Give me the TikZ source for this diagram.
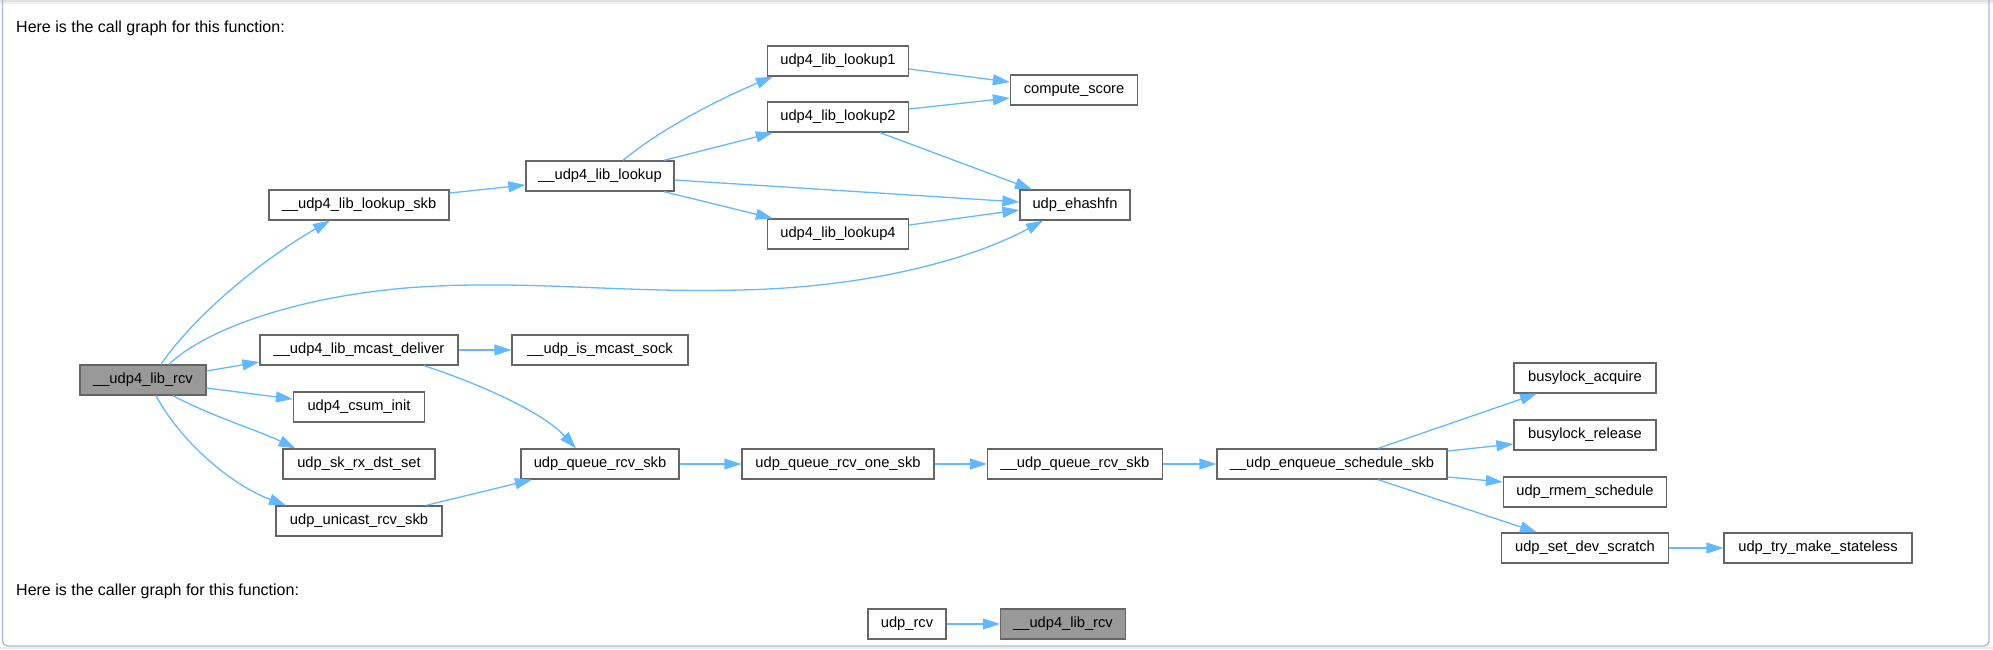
\documentclass[tikz,border=0pt]{standalone}
\usepackage{fontspec}
\setmainfont{Liberation Sans}
\usetikzlibrary{arrows.meta}
\definecolor{edgeblue}{HTML}{63B8FF}
\definecolor{nodeborder}{HTML}{666666}
\definecolor{mainfill}{HTML}{999999}
\definecolor{framecol}{HTML}{A8B8D9}
\tikzset{
  box/.style={draw=nodeborder, line width=1.3pt, fill=white, minimum height=30pt,
    inner sep=0pt, font=\fontsize{14.7}{17}\selectfont, text=black},
  mainbox/.style={box, fill=mainfill},
  call/.style={draw=edgeblue, line width=1.3pt, -{Triangle[length=17pt,width=11pt]}},
  header/.style={anchor=base west, inner sep=0pt, font=\fontsize{16}{19}\selectfont, text=black}
}
\begin{document}
\begin{tikzpicture}[x=1pt,y=-1pt]
\useasboundingbox (0,0) rectangle (1993,649);
% frame
\fill[black!12] (0,0) rectangle (1993,2);
\fill[black!6] (0,2) rectangle (1993,3.5);
\fill[black!8] (0,647) rectangle (1993,649);
\draw[framecol, line width=1.3pt, rounded corners=5pt] (2.5,0) -- (2.5,646) -- (1989,646) -- (1989,0);

\node[header] (h1) at (16,32) {Here is the call graph for this function:};
\node[header] (h2) at (16,595) {Here is the caller graph for this function:};

% nodes
\node[mainbox, minimum width=126pt] (rcv) at (143,380) {\_\_udp4\_lib\_rcv};
\node[box, minimum width=180pt] (lsk) at (359,205) {\_\_udp4\_lib\_lookup\_skb};
\node[box, minimum width=148pt] (lk) at (600,176) {\_\_udp4\_lib\_lookup};
\node[box, minimum width=141pt] (l1) at (838,61) {udp4\_lib\_lookup1};
\node[box, minimum width=141pt] (l2) at (838,117) {udp4\_lib\_lookup2};
\node[box, minimum width=141pt] (l4) at (838,234) {udp4\_lib\_lookup4};
\node[box, minimum width=127pt] (cs) at (1074,90) {compute\_score};
\node[box, minimum width=110pt] (eh) at (1075,205) {udp\_ehashfn};
\node[box, minimum width=198pt] (mcd) at (359,350) {\_\_udp4\_lib\_mcast\_deliver};
\node[box, minimum width=176pt] (im) at (600,350) {\_\_udp\_is\_mcast\_sock};
\node[box, minimum width=131pt] (csum) at (359,407) {udp4\_csum\_init};
\node[box, minimum width=152pt] (skrx) at (359,464) {udp\_sk\_rx\_dst\_set};
\node[box, minimum width=166pt] (uni) at (359,521) {udp\_unicast\_rcv\_skb};
\node[box, minimum width=158pt] (qr) at (600,464) {udp\_queue\_rcv\_skb};
\node[box, minimum width=192pt] (qo) at (838,464) {udp\_queue\_rcv\_one\_skb};
\node[box, minimum width=175pt] (uqr) at (1075,464) {\_\_udp\_queue\_rcv\_skb};
\node[box, minimum width=230pt] (en) at (1332,464) {\_\_udp\_enqueue\_schedule\_skb};
\node[box, minimum width=142pt] (ba) at (1585,378) {busylock\_acquire};
\node[box, minimum width=142pt] (br) at (1585,435) {busylock\_release};
\node[box, minimum width=163pt] (rm) at (1585,492) {udp\_rmem\_schedule};
\node[box, minimum width=167pt] (sd) at (1585,548) {udp\_set\_dev\_scratch};
\node[box, minimum width=188pt] (tm) at (1818,548) {udp\_try\_make\_stateless};
\node[box, minimum width=78pt] (ur) at (907,624) {udp\_rcv};
\node[mainbox, minimum width=125pt] (rc2) at (1063,624) {\_\_udp4\_lib\_rcv};

% edges
\draw[call] ([xshift=18pt]rcv.north) .. controls +(34,-50) and +(-65,37) .. ([xshift=-29pt]lsk.south);
\draw[call] ([xshift=26pt]rcv.north) .. controls +(36,-35) and (300,295) .. (419,287)
   .. controls (530,280) and (620,293) .. (740,290)
   .. controls (880,287) and (980,255) .. ([xshift=-32pt]eh.south);
\draw[call] ([yshift=9pt]rcv.east) -- ([yshift=-12pt]mcd.west);
\draw[call] ([yshift=-8pt]rcv.east) -- ([yshift=8pt]csum.west);
\draw[call] ([xshift=30pt]rcv.south) .. controls +(37,20) and +(-40,-19) .. ([xshift=-63.5pt]skrx.north);
\draw[call] ([xshift=13pt]rcv.south) .. controls +(24,45) and +(-56,-21) .. ([xshift=-73pt]uni.north);
\draw[call] ([yshift=12pt]lsk.east) -- ([yshift=-9pt]lk.west);
\draw[call] ([xshift=23pt]lk.north) .. controls +(37,-31) and +(-53,22) .. ([xshift=6pt]l1.south west);
\draw[call] ([xshift=64pt]lk.north) -- ([xshift=6pt]l2.south west);
\draw[call] ([yshift=-4pt]lk.east) -- ([yshift=3pt]eh.west);
\draw[call] ([xshift=64pt]lk.south) -- ([xshift=6pt]l4.north west);
\draw[call] ([yshift=-8pt]l1.east) -- ([yshift=8pt]cs.west);
\draw[call] ([yshift=8pt]l2.east) -- ([yshift=-8pt]cs.west);
\draw[call] ([xshift=42pt]l2.south) -- ([xshift=-43pt]eh.north);
\draw[call] ([yshift=9pt]l4.east) -- ([yshift=-5pt]eh.west);
\draw[call] (mcd.east) -- (im.west);
\draw[call] ([xshift=65pt]mcd.south) .. controls +(46,15) and +(-36,-39) .. ([xshift=-24pt]qr.north);
\draw[call] ([xshift=67pt]uni.north) -- ([xshift=-68pt]qr.south);
\draw[call] (qr.east) -- (qo.west);
\draw[call] (qo.east) -- (uqr.west);
\draw[call] (uqr.east) -- (en.west);
\draw[call] ([xshift=46pt]en.north) -- ([xshift=-48pt]ba.south);
\draw[call] ([yshift=13pt]en.east) -- ([yshift=-9pt]br.west);
\draw[call] ([yshift=-13pt]en.east) -- ([yshift=10pt]rm.west);
\draw[call] ([xshift=46pt]en.south) -- ([xshift=-48pt]sd.north);
\draw[call] (sd.east) -- (tm.west);
\draw[call] (ur.east) -- (rc2.west);
\end{tikzpicture}
\end{document}
